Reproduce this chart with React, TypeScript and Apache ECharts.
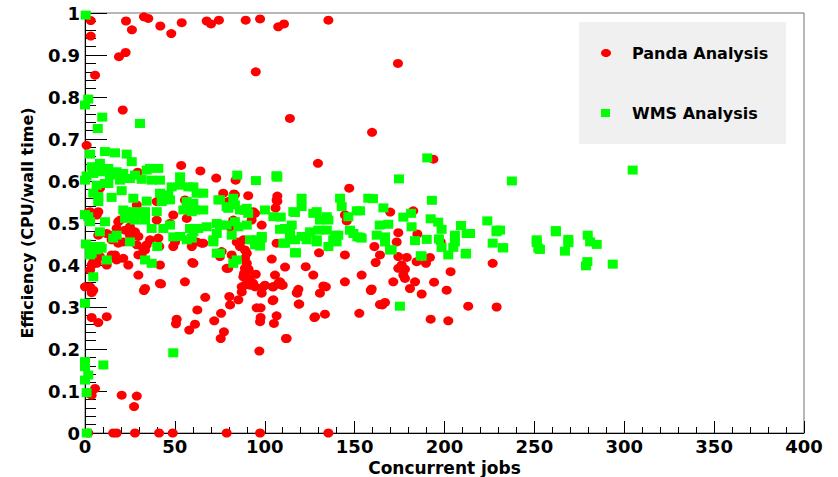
import React, { useEffect, useRef } from "react";
import * as echarts from "echarts";

const xTicks = [0, 50, 100, 150, 200, 250, 300, 350, 400];
const yTicks = [0, 0.1, 0.2, 0.3, 0.4, 0.5, 0.6, 0.7, 0.8, 0.9, 1];
const seriesNames = ["Panda Analysis", "WMS Analysis"];

const pandaPoints: [number, number][] = [
  [3.2, 0.982], [3.2, 0.945], [5.6, 0.852], [0.9, 0.685], [22.8, 0.981], [26.1, 0.96], [18.9, 0.896], [22.6, 0.906],
  [21, 0.769], [32.8, 0.991], [35.2, 0.987], [41.9, 0.969], [48, 0.951], [53.8, 0.977], [67.7, 0.981], [70.1, 0.974],
  [74.5, 0.983], [89.4, 0.983], [97.4, 0.986], [95, 0.86], [107.5, 0.967], [110.7, 0.974], [135.4, 0.983], [174.1, 0.88],
  [114, 0.749], [159.7, 0.716], [129.6, 0.642], [193.8, 0.652], [53.5, 0.637], [64.2, 0.624], [73, 0.607], [83.8, 0.602],
  [29.3, 0.621], [147, 0.583],
  [107, 0.564], [107, 0.552], [106, 0.536], [169.8, 0.526], [182.6, 0.529], [174.3, 0.477], [184.9, 0.474], [173.4, 0.455],
  [197.9, 0.455], [161, 0.444], [164.1, 0.424], [161.7, 0.406], [174.3, 0.42], [179, 0.418], [176.2, 0.4], [178, 0.39],
  [174.3, 0.392], [177.1, 0.376], [178, 0.368], [184.5, 0.408], [189.7, 0.404], [191.9, 0.418], [226.8, 0.404], [203.4, 0.384],
  [153.9, 0.376], [171.5, 0.36], [183.6, 0.36], [194.2, 0.359], [159.5, 0.343], [180.8, 0.344], [201.2, 0.34],
  [106.6, 0.452], [103.9, 0.414], [130.2, 0.429], [144.6, 0.424], [111.3, 0.395], [122.8, 0.396], [127, 0.376], [105.7, 0.376],
  [108.5, 0.36], [104.4, 0.348], [110, 0.352], [118.7, 0.342], [117.8, 0.334], [132.6, 0.35], [130.7, 0.333], [144.6, 0.36],
  [159, 0.34], [187.3, 0.331], [104.8, 0.317], [119.2, 0.307], [166.9, 0.311], [165.4, 0.305], [213.2, 0.302], [229, 0.3],
  [106.6, 0.279], [105.1, 0.261], [127.6, 0.275], [133.5, 0.283], [152.6, 0.285], [192.3, 0.271], [202.1, 0.267], [111.8, 0.225],
  [76.9, 0.571], [82.9, 0.569], [90.8, 0.565], [93.6, 0.527], [94.6, 0.523], [98.3, 0.495], [82.5, 0.507], [80.7, 0.491],
  [92.7, 0.507], [144.6, 0.519], [145.6, 0.505], [84.4, 0.455], [86.2, 0.444], [88.1, 0.46], [89, 0.436], [90, 0.428],
  [89, 0.416], [90, 0.404], [89, 0.392], [90, 0.384], [88.1, 0.372], [90.8, 0.368], [91.8, 0.352], [87.2, 0.348],
  [93.6, 0.356], [94.6, 0.348], [78.8, 0.392], [81.6, 0.424], [107.5, 0.356], [100.1, 0.352], [99.2, 0.348], [134, 0.348],
  [8.3, 0.583], [4.6, 0.523], [7.4, 0.527], [1.8, 0.525], [19.5, 0.507], [17.6, 0.487], [22.3, 0.483], [25, 0.471],
  [27.8, 0.479], [29.7, 0.468], [28.8, 0.543], [39.9, 0.507], [49.1, 0.519], [47.3, 0.499], [56.6, 0.511], [14.8, 0.471],
  [12.1, 0.475], [7.4, 0.471], [14.8, 0.46], [18.5, 0.452], [21.3, 0.455], [8.3, 0.42], [6.5, 0.404], [12.1, 0.4],
  [14.8, 0.424], [16.7, 0.424], [17.6, 0.412], [3.7, 0.4], [2.8, 0.388], [21.3, 0.416], [24.1, 0.4], [28.8, 0.448],
  [29.7, 0.424], [34.3, 0.448], [33.4, 0.436], [36.2, 0.46], [49.1, 0.444], [50.1, 0.455], [31.5, 0.424], [41.3, 0.444],
  [59.4, 0.444], [62.1, 0.455], [64.9, 0.452], [29.7, 0.376], [41.7, 0.356], [33.4, 0.344], [55.6, 0.36], [60.3, 0.404],
  [76, 0.432], [75.1, 0.42], [79.7, 0.392], [0, 0.348], [2.8, 0.348], [79.7, 0.551], [39.9, 0.551], [55.6, 0.555],
  [60.3, 0.535], [87.2, 0.531], [106.6, 0.555], [18.5, 0.503], [25, 0.491], [2.8, 0.527], [6.5, 0.519], [83.4, 0.567],
  [7.4, 0.581], [59.7, 0.406], [65.8, 0.452], [3.7, 0.432], [4.6, 0.408], [32.4, 0.44], [40.8, 0.464], [41.7, 0.4],
  [88.5, 0.38], [91, 0.39], [92.5, 0.36], [95, 0.378],
  [3.7, 0.334], [4.6, 0.34], [32.8, 0.339], [42.3, 0.355], [66.9, 0.323], [62.5, 0.293], [51, 0.271], [50.6, 0.26],
  [61.2, 0.259], [58, 0.245], [71.9, 0.267], [75.7, 0.285], [80.3, 0.325], [80.7, 0.305], [85.3, 0.317], [87.2, 0.336],
  [89, 0.352], [77.3, 0.241], [75.5, 0.225], [95.5, 0.298], [97.7, 0.298], [97.7, 0.275], [97.4, 0.265], [98.3, 0.333],
  [104.8, 0.348], [109.4, 0.352], [104.4, 0.315], [112.2, 0.225], [97, 0.195], [118.1, 0.333], [118.9, 0.307], [128, 0.277],
  [159.1, 0.339], [164.1, 0.306], [3.7, 0.275], [7.4, 0.263], [12.1, 0.277], [5.6, 0.106], [3.7, 0.09], [20.4, 0.09],
  [28.8, 0.088], [27.3, 0.063], [1.8, 0.095],
  [1.8, 0], [15.7, 0], [17.6, 0], [27.8, 0], [41.2, 0], [48.8, 0], [78.8, 0], [97.4, 0], [135.4, 0],
];

const wmsPoints: [number, number][] = [
  [0.4, 0.995], [0, 0.781], [1.8, 0.795], [9.6, 0.752], [7.1, 0.725], [30.6, 0.737], [2.8, 0.664], [11.1, 0.67],
  [16.7, 0.667], [23.2, 0.664], [26, 0.646], [8.3, 0.642], [3.7, 0.634], [0.9, 0.612], [4.6, 0.618], [8.3, 0.622],
  [13, 0.63], [13.9, 0.614], [17.6, 0.622], [21.3, 0.618], [19.5, 0.602], [25, 0.606], [27.8, 0.614], [31.5, 0.604],
  [34.3, 0.626], [36.2, 0.63], [40.8, 0.63], [37.1, 0.602], [41.7, 0.602], [0, 0.602], [6.5, 0.59], [11.1, 0.594],
  [13, 0.594], [4.6, 0.571], [7.4, 0.563], [7.4, 0.551], [14.8, 0.561], [20.4, 0.577], [26.9, 0.559], [34.3, 0.552],
  [21.3, 0.531], [25, 0.527], [29.7, 0.527], [33.4, 0.527], [39.9, 0.527], [22.3, 0.511], [27.8, 0.507], [33.4, 0.507],
  [41.7, 0.571], [42.7, 0.551], [47.3, 0.555], [52.9, 0.61], [52.9, 0.59], [48.2, 0.586], [46.3, 0.567], [57.5, 0.586],
  [60.3, 0.586], [62.1, 0.571], [65.8, 0.571], [56.6, 0.551], [60.3, 0.547], [61.2, 0.531], [59.4, 0.527], [54.7, 0.531],
  [65.8, 0.531], [74.2, 0.555], [78.8, 0.539], [2.8, 0.503], [11.1, 0.503], [8.3, 0.479], [15.7, 0.464], [17.6, 0.471],
  [25, 0.455], [2.8, 0.444], [9.3, 0.44], [2.8, 0.424], [12.1, 0.412], [33.4, 0.412], [37.1, 0.404], [40.2, 0.444],
  [37.1, 0.487], [43.6, 0.487], [47.3, 0.495], [52.9, 0.468], [59.4, 0.464], [58.4, 0.487], [63, 0.487], [67.7, 0.491],
  [73.3, 0.499], [73.3, 0.475], [78.8, 0.495], [71.4, 0.46], [73.3, 0.428], [4.6, 0.372], [49.1, 0.467], [56.6, 0.46],
  [60.3, 0.479], [71.4, 0.455], [82.5, 0.404], [84.4, 0.412], [95.5, 0.46], [98.3, 0.468], [6.5, 0.436], [3.7, 0.428],
  [8.3, 0.444], [0, 0.309], [49.1, 0.191], [10.2, 0.162], [0, 0.17], [0, 0.158], [1.8, 0.138], [0, 0.126],
  [0.9, 0.096], [1, 0], [0, 0.52], [1.8, 0.515], [0.5, 0.45],
  [84.7, 0.614], [95.1, 0.601], [106.6, 0.612], [107, 0.609], [75.1, 0.555], [82.5, 0.559], [83.4, 0.543], [79.7, 0.535],
  [86.2, 0.531], [90, 0.535], [90.8, 0.523], [83.4, 0.503], [85.3, 0.491], [90, 0.495], [81.6, 0.471], [75.1, 0.428],
  [91.8, 0.46], [98.3, 0.464], [97.4, 0.445], [94.6, 0.448], [100.1, 0.531], [104.8, 0.515], [108.9, 0.514], [111.3, 0.487],
  [115, 0.495], [114, 0.471], [111.3, 0.452], [116.8, 0.46], [115.9, 0.527], [120.5, 0.559], [120.5, 0.539], [117.4, 0.429],
  [120.5, 0.468], [123.3, 0.46], [125.2, 0.479], [128.9, 0.527], [130.7, 0.507], [129.8, 0.483], [128.9, 0.46], [134.5, 0.515],
  [134.5, 0.483], [135.4, 0.444], [139.1, 0.471], [138.1, 0.46], [140.9, 0.471], [141.9, 0.559], [142.8, 0.539], [146.5, 0.515],
  [149.3, 0.475], [151.2, 0.529], [153.9, 0.464], [157.6, 0.559], [75.1, 0.495],
  [174.7, 0.605], [237.5, 0.6], [160.2, 0.558], [166, 0.536], [193, 0.554], [116.8, 0.525], [127, 0.523], [135.4, 0.507],
  [177.1, 0.514], [181.4, 0.523], [192.3, 0.51], [196.5, 0.502], [198.4, 0.485], [181.7, 0.491], [209.2, 0.494], [212.3, 0.475],
  [223.8, 0.505], [229, 0.483], [164, 0.495], [168.7, 0.497], [147.4, 0.483], [151.5, 0.467], [108.5, 0.485], [114, 0.483],
  [251.3, 0.46], [304.7, 0.626], [261.9, 0.482], [268.9, 0.461], [279.7, 0.471], [230.9, 0.483], [262, 0.479], [232.7, 0.441],
  [251.3, 0.453], [253.1, 0.437], [268.9, 0.453], [267, 0.433], [281, 0.455], [284.7, 0.449], [279.5, 0.408], [278.7, 0.398],
  [293.6, 0.402], [190.4, 0.655], [153, 0.529], [162.3, 0.471], [166.9, 0.467], [183.6, 0.458], [190.1, 0.461], [196.9, 0.462],
  [169.7, 0.436], [198.4, 0.442], [202.1, 0.424], [205.8, 0.455], [204.9, 0.442], [186.8, 0.422], [211.8, 0.426], [226.8, 0.452],
  [232.4, 0.441], [110.3, 0.452], [116.8, 0.429], [175.2, 0.302], [128.9, 0.455], [140, 0.455], [153, 0.466], [166.9, 0.455],
  [170.6, 0.436], [187.3, 0.421], [212, 0.428], [229, 0.479], [252.2, 0.44], [205.8, 0.471], [214.2, 0.475], [106.6, 0.612],
];

const FONT = "DejaVu Sans";

export default function App() {
  const ref = useRef<HTMLDivElement>(null);
  useEffect(() => {
    if (!ref.current) return;
    const chart = echarts.init(ref.current, undefined, { renderer: "svg" });
    const labelStyle = { fontFamily: FONT, fontWeight: "bold" as const, fontSize: 18, color: "#000" };
    chart.setOption({
      animation: false,
      backgroundColor: "#fff",
      grid: {
        left: 85, top: 13, right: 34, bottom: 44,
        outerBoundsMode: "none",
        containLabel: false,
        show: true, borderColor: "#707070", borderWidth: 1, backgroundColor: "#fff",
      },
      xAxis: {
        type: "value",
        min: xTicks[0],
        max: xTicks[xTicks.length - 1],
        interval: xTicks[1] - xTicks[0],
        name: "Concurrent jobs",
        nameLocation: "middle",
        nameGap: 21,
        nameTextStyle: { fontFamily: FONT, fontWeight: "bold", fontSize: 17, lineHeight: 17, color: "#000" },
        axisLine: { show: true, onZero: false, lineStyle: { color: "#000", width: 1 } },
        axisTick: { show: true, inside: true, length: 12, lineStyle: { color: "#000" } },
        minorTick: { show: true, splitNumber: 5, length: 6, lineStyle: { color: "#000" } },
        axisLabel: { ...labelStyle, margin: 4 },
        splitLine: { show: false },
      },
      yAxis: {
        type: "value",
        min: yTicks[0],
        max: yTicks[yTicks.length - 1],
        interval: 0.1,
        name: "Efficiency (CPU/wall time)",
        nameLocation: "middle",
        nameGap: 50,
        nameTextStyle: { fontFamily: FONT, fontWeight: "bold", fontSize: 16, color: "#000" },
        axisLine: { show: true, onZero: false, lineStyle: { color: "#000", width: 1 } },
        axisTick: { show: true, inside: true, length: 22, lineStyle: { color: "#000" } },
        minorTick: { show: true, splitNumber: 5, length: 11, lineStyle: { color: "#000" } },
        axisLabel: { ...labelStyle, margin: 5, formatter: (v: number) => String(Math.round(v * 10) / 10) },
        splitLine: { show: false },
      },
      series: [
        {
          name: seriesNames[0],
          type: "scatter",
          symbol: "circle",
          symbolSize: [10, 9],
          clip: false,
          silent: true,
          itemStyle: { color: "#ff0000", opacity: 1 },
          data: pandaPoints,
        },
        {
          name: seriesNames[1],
          type: "scatter",
          symbol: "rect",
          symbolSize: [10, 9],
          clip: false,
          silent: true,
          itemStyle: { color: "#00ff00", opacity: 1 },
          data: wmsPoints,
        },
      ],
      graphic: [
        { type: "rect", left: 579, top: 22, shape: { width: 207, height: 122 }, style: { fill: "#f0f0f0" }, z: 10 },
        { type: "ellipse", shape: { cx: 606, cy: 53, rx: 5, ry: 4 }, style: { fill: "#ff0000" }, z: 11 },
        { type: "rect", shape: { x: 601, y: 109, width: 9, height: 8 }, style: { fill: "#00ff00" }, z: 11 },
        {
          type: "text", x: 632, y: 53, z: 11,
          style: { text: seriesNames[0], fontFamily: FONT, fontWeight: "bold", fontSize: 16, fill: "#000", verticalAlign: "middle" },
        },
        {
          type: "text", x: 632, y: 113, z: 11,
          style: { text: seriesNames[1], fontFamily: FONT, fontWeight: "bold", fontSize: 16, fill: "#000", verticalAlign: "middle" },
        },
      ],
    });
    return () => chart.dispose();
  }, []);
  return <div ref={ref} style={{ position: "fixed", left: 0, top: 0, width: 838, height: 477 }} />;
}
